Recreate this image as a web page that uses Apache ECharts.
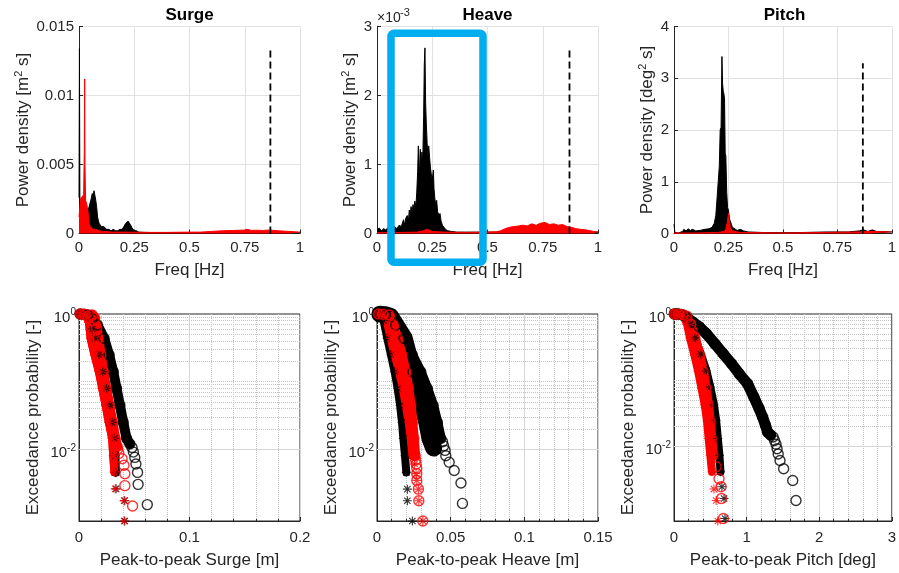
<!DOCTYPE html>
<html><head><meta charset="utf-8">
<script src="https://cdn.jsdelivr.net/npm/echarts/dist/echarts.min.js"></script>
<style>html,body{margin:0;padding:0;background:#fff}#c{width:899px;height:573px}</style>
</head><body><div id="c"></div>
<script>
// ---------------- DATA ----------------
const panelNames = ['Surge', 'Heave', 'Pitch'];
const psdUnit = ['m', 'm', 'deg'];
const psdYMax = [0.015, 0.003, 4];
const psdYInterval = [0.005, 0.001, 1];
const cutoffFreq = [0.866, 0.871, 0.867];
const cutoffTop = [0.0133, 0.00268, 3.29];
const p2pUnit = ['m', 'm', 'deg'];
const p2pXMax = [0.2, 0.15, 3];
const p2pXInterval = [0.1, 0.05, 1];

// PSD [freq Hz, power density]
const surgePsdBlack = [[0,0.0026],[0.002,0.0134],[0.004,0.0024],[0.008,0.0020],[0.012,0.0022],[0.016,0.0019],[0.020,0.0024],[0.025,0.0021],[0.030,0.0017],[0.035,0.0016],[0.040,0.0017],[0.045,0.0019],[0.050,0.0020],[0.055,0.0025],[0.060,0.0029],[0.064,0.0027],[0.068,0.0031],[0.072,0.0030],[0.076,0.0024],[0.080,0.0019],[0.084,0.0012],[0.088,0.0009],[0.092,0.0007],[0.097,0.0006],[0.102,0.0005],[0.108,0.0006],[0.112,0.0005],[0.118,0.0004],[0.125,0.0003],[0.135,0.0003],[0.145,0.0002],[0.155,0.0003],[0.165,0.0002],[0.175,0.0002],[0.185,0.0003],[0.195,0.0003],[0.203,0.0005],[0.210,0.0007],[0.216,0.0008],[0.222,0.0009],[0.228,0.0008],[0.234,0.0006],[0.240,0.0004],[0.250,0.0002],[0.260,0.0002],[0.270,0.0001],[0.300,0.00008],[0.400,0.00005],[0.500,0.00005],[0.600,0.00006],[0.700,0.00008],[0.800,0.00008],[0.900,0.00006],[1.000,0.00005]];
const surgePsdRed = [[0,0.0012],[0.003,0.0017],[0.006,0.0024],[0.010,0.0026],[0.014,0.0027],[0.018,0.0026],[0.021,0.0028],[0.024,0.0060],[0.0257,0.0112],[0.027,0.0050],[0.030,0.0024],[0.034,0.0022],[0.038,0.0019],[0.042,0.0014],[0.046,0.0008],[0.050,0.0005],[0.056,0.0004],[0.064,0.0003],[0.075,0.0003],[0.090,0.0002],[0.110,0.00015],[0.150,0.0001],[0.200,0.0001],[0.300,0.00008],[0.400,0.00008],[0.500,0.0001],[0.550,0.0001],[0.600,0.00015],[0.650,0.0002],[0.700,0.00022],[0.750,0.00025],[0.760,0.0003],[0.780,0.00022],[0.800,0.00024],[0.830,0.00022],[0.860,0.00025],[0.900,0.0002],[0.950,0.00015],[1.000,0.0001]];
const heavePsdBlack = [[0,0.05e-3],[0.01,0.08e-3],[0.02,0.04e-3],[0.03,0.07e-3],[0.04,0.05e-3],[0.05,0.09e-3],[0.06,0.06e-3],[0.07,0.08e-3],[0.08,0.10e-3],[0.09,0.07e-3],[0.10,0.12e-3],[0.11,0.10e-3],[0.12,0.20e-3],[0.125,0.12e-3],[0.13,0.22e-3],[0.137,0.26e-3],[0.142,0.18e-3],[0.146,0.34e-3],[0.150,0.25e-3],[0.154,0.39e-3],[0.158,0.30e-3],[0.163,0.42e-3],[0.167,0.35e-3],[0.171,0.47e-3],[0.176,0.40e-3],[0.180,0.60e-3],[0.184,0.90e-3],[0.187,1.27e-3],[0.190,1.10e-3],[0.193,0.80e-3],[0.196,1.22e-3],[0.200,0.95e-3],[0.203,1.18e-3],[0.207,1.05e-3],[0.211,1.70e-3],[0.214,2.45e-3],[0.217,2.69e-3],[0.220,1.90e-3],[0.223,1.60e-3],[0.227,1.30e-3],[0.231,1.10e-3],[0.234,1.27e-3],[0.238,1.10e-3],[0.242,0.95e-3],[0.246,0.85e-3],[0.250,0.78e-3],[0.255,0.92e-3],[0.258,0.65e-3],[0.262,0.50e-3],[0.266,0.42e-3],[0.270,0.48e-3],[0.274,0.32e-3],[0.280,0.26e-3],[0.285,0.29e-3],[0.290,0.18e-3],[0.296,0.12e-3],[0.302,0.10e-3],[0.310,0.06e-3],[0.320,0.04e-3],[0.335,0.03e-3],[0.36,0.02e-3],[0.40,0.02e-3],[0.45,0.02e-3],[0.50,0.02e-3],[0.55,0.02e-3],[0.60,0.03e-3],[0.65,0.05e-3],[0.70,0.07e-3],[0.75,0.07e-3],[0.80,0.06e-3],[0.85,0.04e-3],[0.90,0.03e-3],[0.95,0.02e-3],[1.0,0.01e-3]];
const heavePsdRed = [[0,0.01e-3],[0.10,0.015e-3],[0.18,0.02e-3],[0.21,0.04e-3],[0.225,0.06e-3],[0.235,0.05e-3],[0.25,0.03e-3],[0.30,0.02e-3],[0.40,0.015e-3],[0.50,0.02e-3],[0.54,0.025e-3],[0.56,0.04e-3],[0.58,0.07e-3],[0.60,0.09e-3],[0.62,0.10e-3],[0.64,0.11e-3],[0.66,0.12e-3],[0.68,0.11e-3],[0.70,0.14e-3],[0.72,0.12e-3],[0.74,0.15e-3],[0.76,0.16e-3],[0.78,0.13e-3],[0.80,0.14e-3],[0.82,0.12e-3],[0.84,0.13e-3],[0.86,0.10e-3],[0.88,0.09e-3],[0.90,0.07e-3],[0.92,0.06e-3],[0.95,0.05e-3],[0.98,0.03e-3],[1.0,0.025e-3]];
const pitchPsdBlack = [[0,0.18],[0.004,0.02],[0.02,0.01],[0.04,0.04],[0.045,0.08],[0.055,0.05],[0.065,0.09],[0.075,0.06],[0.085,0.08],[0.10,0.05],[0.12,0.06],[0.14,0.08],[0.16,0.09],[0.175,0.12],[0.185,0.20],[0.192,0.35],[0.198,0.70],[0.204,0.72],[0.208,1.30],[0.212,2.00],[0.216,2.05],[0.220,3.42],[0.223,2.90],[0.226,2.75],[0.229,2.70],[0.232,2.60],[0.235,1.55],[0.238,1.50],[0.242,0.80],[0.246,0.50],[0.250,0.45],[0.255,0.28],[0.260,0.22],[0.268,0.12],[0.277,0.10],[0.290,0.06],[0.305,0.08],[0.320,0.05],[0.340,0.03],[0.40,0.02],[0.50,0.015],[0.60,0.02],[0.70,0.03],[0.80,0.03],[0.85,0.05],[0.87,0.07],[0.89,0.04],[0.91,0.07],[0.93,0.04],[1.0,0.03]];
const pitchPsdRed = [[0,0.01],[0.10,0.01],[0.20,0.02],[0.23,0.04],[0.237,0.08],[0.244,0.20],[0.250,0.39],[0.255,0.22],[0.259,0.10],[0.270,0.05],[0.30,0.02],[0.50,0.01],[0.70,0.02],[0.85,0.03],[0.90,0.04],[1.0,0.03]];

// Exceedance probability [peak-to-peak value, probability]
const surgeBlackCircleBody = [[0.001,1],[0.004,0.995],[0.0076,0.966],[0.012,0.85],[0.0167,0.687],[0.0227,0.437],[0.0273,0.247],[0.031,0.14],[0.034,0.0794],[0.037,0.0447],[0.040,0.0251],[0.043,0.0145],[0.046,0.012]];
const surgeBlackCircleTail = [[0.048,0.0106],[0.0492,0.00909],[0.0505,0.00758],[0.0515,0.00606],[0.053,0.00455],[0.0535,0.00303],[0.0618,0.00152]];
const surgeBlackStarBody = [[0.001,1],[0.005,0.98],[0.009,0.9],[0.012,0.6],[0.0145,0.437],[0.018,0.25],[0.0215,0.14],[0.025,0.08],[0.028,0.045],[0.030,0.025],[0.032,0.0145],[0.033,0.008],[0.0334,0.0045]];
const surgeBlackStarTail = [[0.0336,0.0026],[0.0414,0.00174],[0.0414,0.00087]];
const surgeRedCircleBody = [[0.001,1],[0.005,0.993],[0.012,0.966],[0.0142,0.863],[0.016,0.617],[0.0173,0.437],[0.0197,0.247],[0.022,0.14],[0.0245,0.0794],[0.0273,0.0447],[0.0303,0.0251],[0.0327,0.0145],[0.0345,0.011]];
const surgeRedCircleTail = [[0.035,0.0101],[0.036,0.0087],[0.039,0.00725],[0.0407,0.0058],[0.0415,0.00435],[0.0415,0.0029],[0.0485,0.00145]];
const surgeRedStarBody = [[0.001,1],[0.004,0.985],[0.007,0.93],[0.009,0.75],[0.0105,0.437],[0.014,0.25],[0.018,0.14],[0.021,0.08],[0.024,0.045],[0.027,0.025],[0.030,0.0145],[0.031,0.008],[0.032,0.0046]];
const surgeRedStarTail = [[0.0328,0.0026],[0.0408,0.00174],[0.0408,0.00087]];

const heaveBlackCircleBody = [[0.001,1],[0.003,0.99],[0.0059,0.966],[0.0127,0.687],[0.0184,0.437],[0.024,0.247],[0.0297,0.14],[0.0342,0.0794],[0.0381,0.0447],[0.041,0.0251],[0.0433,0.0145]];
const heaveBlackCircleTail = [[0.0445,0.013],[0.0452,0.0113],[0.0462,0.0097],[0.0467,0.0081],[0.049,0.0065],[0.0524,0.0049],[0.057,0.0032],[0.058,0.0016]];
const heaveBlackCircleInnerBody = [[0.002,0.995],[0.005,0.98],[0.009,0.93],[0.0185,0.437],[0.0245,0.14],[0.031,0.0447],[0.0338,0.0251],[0.036,0.0145],[0.0385,0.0105]];
const heaveBlackCircleInnerTail = [];
const heaveBlackStarBody = [[0.001,1],[0.0025,0.966],[0.0045,0.8],[0.007,0.437],[0.0095,0.25],[0.012,0.14],[0.014,0.08],[0.0157,0.0447],[0.017,0.025],[0.0179,0.0145],[0.019,0.0081],[0.0199,0.0046]];
const heaveBlackStarTail = [[0.0206,0.0026],[0.0206,0.00175],[0.024,0.00088]];
const heaveRedCircleBody = [[0.001,1],[0.004,0.99],[0.0082,0.966],[0.011,0.687],[0.0138,0.437],[0.0168,0.247],[0.0195,0.14],[0.0213,0.0794],[0.0229,0.0447],[0.024,0.0251],[0.025,0.0145],[0.0259,0.0081]];
const heaveRedCircleTail = [[0.0262,0.007],[0.0266,0.0061],[0.027,0.0053],[0.027,0.0044],[0.027,0.0035],[0.0281,0.0026],[0.0284,0.00175],[0.0311,0.00088]];
const heaveRedStarBody = [[0.001,1],[0.003,0.98],[0.006,0.9],[0.0093,0.437],[0.012,0.247],[0.015,0.14],[0.0175,0.0794],[0.0195,0.0447],[0.0215,0.0251],[0.0229,0.0145],[0.024,0.0081]];
const heaveRedStarTail = [[0.0255,0.0061],[0.0265,0.0044],[0.027,0.0035],[0.0281,0.0026],[0.0284,0.00175],[0.0311,0.00088]];

const pitchBlackCircleBody = [[0.005,1],[0.05,0.998],[0.10,0.985],[0.15,0.93],[0.20,0.84],[0.27,0.74],[0.343,0.646],[0.45,0.5],[0.563,0.355],[0.68,0.25],[0.793,0.178],[0.90,0.125],[1.013,0.089],[1.10,0.056],[1.17,0.038],[1.22,0.028],[1.26,0.021],[1.29,0.0165],[1.33,0.015]];
const pitchBlackCircleTail = [[1.365,0.014],[1.385,0.0124],[1.405,0.0109],[1.42,0.0093],[1.435,0.00775],[1.46,0.0062],[1.51,0.00465],[1.635,0.0031],[1.68,0.00155]];
const pitchBlackStarBody = [[0.005,1],[0.06,0.98],[0.15,0.9],[0.22,0.7],[0.288,0.437],[0.37,0.25],[0.446,0.14],[0.50,0.0794],[0.55,0.0427],[0.58,0.025],[0.604,0.0133],[0.626,0.0074],[0.64,0.0042]];
const pitchBlackStarTail = [[0.66,0.0025],[0.689,0.00166],[0.703,0.00083]];
const pitchRedCircleBody = [[0.005,1],[0.06,0.995],[0.12,0.98],[0.176,0.93],[0.23,0.7],[0.288,0.43],[0.35,0.24],[0.40,0.135],[0.44,0.075],[0.468,0.0427],[0.495,0.024],[0.514,0.0133],[0.536,0.0074]];
const pitchRedCircleTail = [[0.58,0.005],[0.62,0.0033],[0.649,0.0025],[0.655,0.00166],[0.68,0.00083]];
const pitchRedStarBody = [[0.005,1],[0.04,0.99],[0.09,0.96],[0.131,0.93],[0.18,0.7],[0.221,0.43],[0.28,0.24],[0.333,0.135],[0.38,0.075],[0.423,0.0427],[0.455,0.024],[0.477,0.0133],[0.50,0.0074],[0.523,0.0042]];
const pitchRedStarTail = [[0.55,0.0023],[0.581,0.00155],[0.604,0.00076]];

// ---------------- LAYOUT / STYLE ----------------
const W = 221, TOP_T = 26.5, TOP_H = 207, BOT_T = 314, BOT_H = 207;
const LEFTS = [79, 377, 674];
const INK = '#262626';
const FONT = '"Liberation Sans", Arial, Helvetica, sans-serif';
const topNameGap = [46, 17, 17];
const STAR = 'path://M-1,-0.12L1,-0.12L1,0.12L-1,0.12Z M-0.12,-1L0.12,-1L0.12,1L-0.12,1Z M-0.62,-0.79L0.79,0.62L0.62,0.79L-0.79,-0.62Z M0.62,-0.79L0.79,-0.62L-0.62,0.79L-0.79,0.62Z';

const psdBlack = [surgePsdBlack, heavePsdBlack, pitchPsdBlack];
const psdRed = [surgePsdRed, heavePsdRed, pitchPsdRed];
// [body, tail, colour, marker, band width]
const exceed = [
  [[surgeBlackCircleBody, surgeBlackCircleTail, '#000', 'o', 10], [surgeRedStarBody, [], '#ff0000', '*', 8],
   [surgeBlackStarBody, surgeBlackStarTail, '#000', '*', 8],
   [surgeRedCircleBody, surgeRedCircleTail, '#ff0000', 'o', 10], [surgeRedStarBody, surgeRedStarTail, '#ff0000', '*', 8]],
  [[heaveBlackCircleBody, heaveBlackCircleTail, '#000', 'o', 10], [heaveBlackCircleInnerBody, heaveBlackCircleInnerTail, '#000', 'o', 17],
   [heaveBlackStarBody, heaveBlackStarTail, '#000', '*', 8],
   [heaveRedCircleBody, heaveRedCircleTail, '#ff0000', 'o', 10], [heaveRedStarBody, heaveRedStarTail, '#ff0000', '*', 8]],
  [[pitchBlackCircleBody, pitchBlackCircleTail, '#000', 'o', 11], [pitchBlackStarBody, pitchBlackStarTail, '#000', '*', 8],
   [pitchRedCircleBody, pitchRedCircleTail, '#ff0000', 'o', 10], [pitchRedStarBody, pitchRedStarTail, '#ff0000', '*', 8]]
];

function logLabel(v) {
  const e = Math.log10(v), r = Math.round(e);
  if (Math.abs(e - r) > 1e-6 || r % 2 !== 0) return '';
  return '{b|10}{s|' + r + '}';
}

const chart = echarts.init(document.getElementById('c'), null, {renderer: 'canvas', width: 899, height: 573});
const grids = [], xAxes = new Array(6), yAxes = new Array(6), series = [], graphics = [];
const nameStyle = {fontSize: 17, color: INK, fontFamily: FONT};
const labelStyle = {fontSize: 15, color: INK, fontFamily: FONT};

for (let i = 0; i < 3; i++) grids.push({left: LEFTS[i], top: TOP_T, width: W, height: TOP_H});
for (let i = 0; i < 3; i++) grids.push({left: LEFTS[i], top: BOT_T, width: W, height: BOT_H, show: true, borderColor: INK, borderWidth: 1});

for (let i = 0; i < 3; i++) {
  // ---- top: spectra (axis index i)
  xAxes[i] = {type: 'value', gridIndex: i, min: 0, max: 1, interval: 0.25,
    name: 'Freq [Hz]', nameLocation: 'middle', nameGap: 28, nameTextStyle: nameStyle,
    axisLine: {show: true, onZero: false, lineStyle: {color: INK, width: 1}},
    axisTick: {show: true, inside: true, length: 4, lineStyle: {color: INK}},
    axisLabel: Object.assign({margin: 7}, labelStyle),
    splitLine: {show: true, lineStyle: {color: '#e2e2e2', width: 1}}};
  yAxes[i] = {type: 'value', gridIndex: i, min: 0, max: psdYMax[i], interval: psdYInterval[i],
    name: '{t|Power density [' + psdUnit[i] + '}{s|2}{t| s]}', nameLocation: 'middle', nameGap: topNameGap[i],
    nameTextStyle: {color: INK, rich: {t: {fontSize: 17, fontFamily: FONT, color: INK, lineHeight: 20},
      s: {fontSize: 11, fontFamily: FONT, color: INK, lineHeight: 12, verticalAlign: 'top'}}},
    axisLine: {show: true, onZero: false, lineStyle: {color: INK, width: 1}},
    axisTick: {show: true, inside: true, length: 4, lineStyle: {color: INK}},
    axisLabel: Object.assign({margin: 5, formatter: i === 1 ? (v => String(Math.round(v * 1e4) / 10)) : null}, labelStyle),
    splitLine: {show: true, lineStyle: {color: '#e2e2e2', width: 1}}};
  series.push({type: 'line', xAxisIndex: i, yAxisIndex: i, data: psdBlack[i], symbol: 'none',
    lineStyle: {color: '#000', width: 1}, areaStyle: {color: '#000', opacity: 1}, z: 2, silent: true});
  series.push({type: 'line', xAxisIndex: i, yAxisIndex: i, data: psdRed[i], symbol: 'none',
    lineStyle: {color: '#ff0000', width: 1}, areaStyle: {color: '#ff0000', opacity: 1}, z: 3, silent: true});
  series.push({type: 'line', xAxisIndex: i, yAxisIndex: i, data: [[cutoffFreq[i], 0], [cutoffFreq[i], cutoffTop[i]]],
    symbol: 'none', lineStyle: {color: '#000', width: 1.8, type: [7, 4]}, z: 4, silent: true});
  graphics.push({type: 'text', x: LEFTS[i] + W / 2, y: 15, z: 50,
    style: {text: panelNames[i], fill: '#000', font: 'bold 17px ' + FONT, align: 'center', verticalAlign: 'middle', textAlign: 'center', textVerticalAlign: 'middle'}});

  // ---- bottom: exceedance probability (axis index 3+i)
  const b = 3 + i;
  let yMin = 1;
  exceed[i].forEach(g => g[0].concat(g[1]).forEach(p => { if (p[1] < yMin) yMin = p[1]; }));
  xAxes[b] = {type: 'value', gridIndex: b, min: 0, max: p2pXMax[i], interval: p2pXInterval[i],
    name: 'Peak-to-peak ' + panelNames[i] + ' [' + p2pUnit[i] + ']', nameLocation: 'middle', nameGap: 31, nameTextStyle: nameStyle,
    axisLine: {show: true, onZero: false, lineStyle: {color: INK, width: 1}},
    axisTick: {show: true, inside: true, length: 4, lineStyle: {color: INK}},
    minorTick: {show: true, splitNumber: 5, length: 2, lineStyle: {color: INK}},
    axisLabel: Object.assign({margin: 9}, labelStyle),
    splitLine: {show: true, lineStyle: {color: '#d6d6d6', width: 1}},
    minorSplitLine: {show: true, lineStyle: {color: '#c4c4c4', width: 1, type: 'dotted'}}};
  yAxes[b] = {type: 'log', logBase: 10, gridIndex: b, min: yMin, max: 1,
    name: 'Exceedance probability [-]', nameLocation: 'middle', nameGap: 37, nameTextStyle: nameStyle,
    axisLine: {show: true, onZero: false, lineStyle: {color: INK, width: 1}},
    axisTick: {show: false},
    axisLabel: {formatter: logLabel, margin: 3, padding: [7, 0, 0, 0], rich: {
      b: {fontSize: 15, fontFamily: FONT, color: INK, lineHeight: 20},
      s: {fontSize: 10, fontFamily: FONT, color: INK, lineHeight: 10, verticalAlign: 'top'}}},
    splitLine: {show: false}};
  const gl = [];
  for (let e = -4; e < 0; e++) for (let k = 1; k < 10; k++) {
    const v = k * Math.pow(10, e);
    if (v > yMin * 1.001 && v < 0.999) gl.push({yAxis: v, lineStyle: (k === 1 && e % 2 === 0) ? {type: 'solid', color: '#d6d6d6', width: 1} : {type: 'dotted', color: '#c4c4c4', width: 1}});
  }
  series.push({type: 'line', xAxisIndex: b, yAxisIndex: b, data: [], z: 1, silent: true,
    markLine: {z: 1, silent: true, symbol: ['none', 'none'], label: {show: false}, animation: false, data: gl}});
  exceed[i].forEach(g => {
    const isO = g[3] === 'o';
    series.push({type: 'line', xAxisIndex: b, yAxisIndex: b, data: g[0], symbol: 'none', clip: false, silent: true, z: 3,
      lineStyle: {color: g[2], width: g[4], cap: 'round', join: 'round'}});
    series.push({type: 'scatter', xAxisIndex: b, yAxisIndex: b, data: g[0].concat(g[1]), clip: false, silent: true, z: 3,
      symbol: isO ? 'circle' : STAR, symbolSize: isO ? 10 : 9,
      itemStyle: isO ? {color: 'rgba(0,0,0,0)', borderColor: g[2], borderWidth: 1.4} : {color: g[2]}});
  });
}

// exponent label for heave PSD axis
graphics.push({type: 'text', x: 377, y: 18, z: 50, style: {text: '\u00d710', fill: INK, font: '14px ' + FONT, align: 'left', verticalAlign: 'middle', textAlign: 'left', textVerticalAlign: 'middle'}});
graphics.push({type: 'text', x: 400, y: 13, z: 50, style: {text: '-3', fill: INK, font: '11px ' + FONT, align: 'left', verticalAlign: 'middle', textAlign: 'left', textVerticalAlign: 'middle'}});
// highlight box annotation
graphics.push({type: 'rect', z: 100, shape: {x: 391, y: 33.3, width: 92, height: 229, r: 3},
  style: {fill: 'none', stroke: '#00aeef', lineWidth: 7.5}});

chart.setOption({
  animation: false,
  backgroundColor: '#ffffff',
  textStyle: {fontFamily: FONT},
  grid: grids, xAxis: xAxes, yAxis: yAxes, series: series, graphic: graphics
});
</script></body></html>
